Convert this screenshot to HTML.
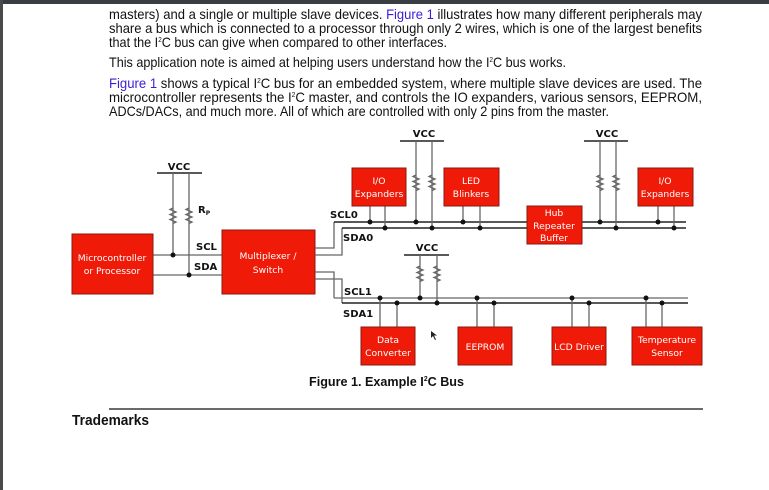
<!DOCTYPE html>
<html><head><meta charset="utf-8"><style>
html,body{margin:0;padding:0;background:#fff;width:769px;height:490px;overflow:hidden}
svg{display:block}
.p{font-family:"Liberation Sans",sans-serif;font-size:14px;fill:#111}
.lk{fill:#3a1fd6}
.bx{fill:#f01a08;stroke:#8a1a10;stroke-width:1}
.bt{font-family:"DejaVu Sans","Liberation Sans",sans-serif;font-size:9.2px;fill:#fff;text-anchor:middle}
.lb{font-family:"DejaVu Sans","Liberation Sans",sans-serif;font-size:10px;font-weight:bold;fill:#111}
.w{stroke:#666;stroke-width:1.3;fill:none}
.b{stroke:#222;stroke-width:1.5;fill:none}
.d{fill:#111}
</style></head><body>
<svg width="769" height="490" viewBox="0 0 769 490" xmlns="http://www.w3.org/2000/svg">
<rect x="0" y="0" width="769" height="490" fill="#fff"/>
<rect x="0" y="0" width="769" height="4" fill="#3a3d42"/>
<rect x="0" y="0" width="3" height="490" fill="#4a4a4a"/>

<text class="p" x="109" y="19" textLength="593" lengthAdjust="spacingAndGlyphs">masters) and a single or multiple slave devices. <tspan class="lk">Figure 1</tspan> illustrates how many different peripherals may</text>
<text class="p" x="109" y="33" textLength="593" lengthAdjust="spacingAndGlyphs">share a bus which is connected to a processor through only 2 wires, which is one of the largest benefits</text>
<text class="p" x="109" y="47" textLength="338" lengthAdjust="spacingAndGlyphs">that the I<tspan font-size="7" dy="-5">2</tspan><tspan dy="5">C bus can give when compared to other interfaces.</tspan></text>
<text class="p" x="109" y="67" textLength="457" lengthAdjust="spacingAndGlyphs">This application note is aimed at helping users understand how the I<tspan font-size="7" dy="-5">2</tspan><tspan dy="5">C bus works.</tspan></text>
<text class="p" x="109" y="88" textLength="593" lengthAdjust="spacingAndGlyphs"><tspan class="lk">Figure 1</tspan> shows a typical I<tspan font-size="7" dy="-5">2</tspan><tspan dy="5">C bus for an embedded system, where multiple slave devices are used. The</tspan></text>
<text class="p" x="109" y="102" textLength="593" lengthAdjust="spacingAndGlyphs">microcontroller represents the I<tspan font-size="7" dy="-5">2</tspan><tspan dy="5">C master, and controls the IO expanders, various sensors, EEPROM,</tspan></text>
<text class="p" x="109" y="116" textLength="500" lengthAdjust="spacingAndGlyphs">ADCs/DACs, and much more. All of which are controlled with only 2 pins from the master.</text>

<!-- left VCC -->
<line class="b" x1="157" y1="173" x2="202" y2="173"/>
<text class="lb" x="179" y="170" text-anchor="middle">VCC</text>
<line class="w" x1="173" y1="173" x2="173" y2="255"/>
<line class="w" x1="189" y1="173" x2="189" y2="275"/>
<path class="w" d="M173 208 l-3 1.5 l6 2.5 l-6 2.5 l6 2.5 l-6 2.5 l6 2.5 l-3 1.5"/>
<path class="w" d="M189 208 l-3 1.5 l6 2.5 l-6 2.5 l6 2.5 l-6 2.5 l6 2.5 l-3 1.5"/>
<text class="lb" x="198" y="213">R<tspan font-size="6" dy="2">P</tspan></text>
<line class="w" x1="153" y1="255" x2="222" y2="255"/>
<line class="w" x1="153" y1="275" x2="222" y2="275"/>
<circle class="d" cx="173" cy="255" r="2.5"/><circle class="d" cx="189" cy="275" r="2.5"/>
<text class="lb" x="196" y="250">SCL</text>
<text class="lb" x="194" y="270">SDA</text>

<rect class="bx" x="72" y="234" width="81" height="60"/>
<text class="bt" x="112" y="261">Microcontroller</text>
<text class="bt" x="112" y="274">or Processor</text>
<rect class="bx" x="222" y="230" width="93" height="64"/>
<text class="bt" x="268" y="259">Multiplexer /</text>
<text class="bt" x="268" y="273">Switch</text>

<!-- branch 0 -->
<path class="w" d="M315 248 H334 V222"/>
<path class="w" d="M315 255 H342 V228"/>
<line class="b" x1="334" y1="222" x2="686" y2="222"/>
<line class="b" x1="342" y1="228" x2="686" y2="228"/>
<text class="lb" x="330" y="218">SCL0</text>
<text class="lb" x="343" y="241">SDA0</text>

<line class="b" x1="400" y1="141" x2="444" y2="141"/>
<text class="lb" x="424" y="137" text-anchor="middle">VCC</text>
<line class="w" x1="416" y1="141" x2="416" y2="222"/>
<line class="w" x1="432" y1="141" x2="432" y2="228"/>
<path class="w" d="M416 175 l-3 1.5 l6 2.5 l-6 2.5 l6 2.5 l-6 2.5 l6 2.5 l-3 1.5"/>
<path class="w" d="M432 175 l-3 1.5 l6 2.5 l-6 2.5 l6 2.5 l-6 2.5 l6 2.5 l-3 1.5"/>

<line class="b" x1="584" y1="141" x2="628" y2="141"/>
<text class="lb" x="607" y="137" text-anchor="middle">VCC</text>
<line class="w" x1="600" y1="141" x2="600" y2="222"/>
<line class="w" x1="616" y1="141" x2="616" y2="228"/>
<path class="w" d="M600 175 l-3 1.5 l6 2.5 l-6 2.5 l6 2.5 l-6 2.5 l6 2.5 l-3 1.5"/>
<path class="w" d="M616 175 l-3 1.5 l6 2.5 l-6 2.5 l6 2.5 l-6 2.5 l6 2.5 l-3 1.5"/>

<line class="w" x1="370" y1="206" x2="370" y2="222"/><line class="w" x1="385" y1="206" x2="385" y2="228"/>
<line class="w" x1="463" y1="206" x2="463" y2="222"/><line class="w" x1="480" y1="206" x2="480" y2="228"/>
<line class="w" x1="658" y1="206" x2="658" y2="222"/><line class="w" x1="674" y1="206" x2="674" y2="228"/>
<circle class="d" cx="370" cy="222" r="2.5"/><circle class="d" cx="385" cy="228" r="2.5"/>
<circle class="d" cx="416" cy="222" r="2.5"/><circle class="d" cx="432" cy="228" r="2.5"/>
<circle class="d" cx="463" cy="222" r="2.5"/><circle class="d" cx="480" cy="228" r="2.5"/>
<circle class="d" cx="600" cy="222" r="2.5"/><circle class="d" cx="616" cy="228" r="2.5"/>
<circle class="d" cx="658" cy="222" r="2.5"/><circle class="d" cx="674" cy="228" r="2.5"/>

<rect class="bx" x="352" y="168" width="54" height="38"/>
<text class="bt" x="379" y="184">I/O</text><text class="bt" x="379" y="197">Expanders</text>
<rect class="bx" x="444" y="168" width="55" height="38"/>
<text class="bt" x="471" y="184">LED</text><text class="bt" x="471" y="197">Blinkers</text>
<rect class="bx" x="527" y="206" width="55" height="38"/>
<text class="bt" x="554" y="216">Hub</text><text class="bt" x="554" y="229">Repeater</text><text class="bt" x="554" y="241">Buffer</text>
<rect class="bx" x="638" y="168" width="55" height="38"/>
<text class="bt" x="665" y="184">I/O</text><text class="bt" x="665" y="197">Expanders</text>

<!-- branch 1 -->
<path class="w" d="M315 272 H334 V298"/>
<path class="w" d="M315 279 H342 V303"/>
<line class="w" x1="334" y1="298" x2="688" y2="298" stroke="#555" stroke-width="1.6"/>
<line class="b" x1="342" y1="303" x2="688" y2="303"/>
<text class="lb" x="344" y="295">SCL1</text>
<text class="lb" x="343" y="317">SDA1</text>

<line class="b" x1="404" y1="255" x2="449" y2="255"/>
<text class="lb" x="427" y="251" text-anchor="middle">VCC</text>
<line class="w" x1="420" y1="255" x2="420" y2="298"/>
<line class="w" x1="437" y1="255" x2="437" y2="303"/>
<path class="w" d="M420 266 l-3 1.5 l6 2.5 l-6 2.5 l6 2.5 l-6 2.5 l6 2.5 l-3 1.5"/>
<path class="w" d="M437 266 l-3 1.5 l6 2.5 l-6 2.5 l6 2.5 l-6 2.5 l6 2.5 l-3 1.5"/>
<circle class="d" cx="420" cy="298" r="2.5"/><circle class="d" cx="437" cy="303" r="2.5"/>

<line class="w" x1="380" y1="298" x2="380" y2="327"/><line class="w" x1="397" y1="303" x2="397" y2="327"/>
<line class="w" x1="477" y1="298" x2="477" y2="327"/><line class="w" x1="494" y1="303" x2="494" y2="327"/>
<line class="w" x1="572" y1="298" x2="572" y2="327"/><line class="w" x1="589" y1="303" x2="589" y2="327"/>
<line class="w" x1="646" y1="298" x2="646" y2="327"/><line class="w" x1="662" y1="303" x2="662" y2="327"/>
<circle class="d" cx="380" cy="298" r="2.5"/><circle class="d" cx="397" cy="303" r="2.5"/>
<circle class="d" cx="477" cy="298" r="2.5"/><circle class="d" cx="494" cy="303" r="2.5"/>
<circle class="d" cx="572" cy="298" r="2.5"/><circle class="d" cx="589" cy="303" r="2.5"/>
<circle class="d" cx="646" cy="298" r="2.5"/><circle class="d" cx="662" cy="303" r="2.5"/>

<rect class="bx" x="361" y="327" width="54" height="38"/>
<text class="bt" x="388" y="343">Data</text><text class="bt" x="388" y="356">Converter</text>
<rect class="bx" x="458" y="327" width="54" height="38"/>
<text class="bt" x="485" y="350">EEPROM</text>
<rect class="bx" x="552" y="327" width="54" height="38"/>
<text class="bt" x="579" y="350">LCD Driver</text>
<rect class="bx" x="632" y="327" width="70" height="38"/>
<text class="bt" x="667" y="343">Temperature</text><text class="bt" x="667" y="356">Sensor</text>

<path d="M431 331 l0 7 l2 -2 l2 4 l1 -0.5 l-2 -4 l3 0 z" fill="#222"/>

<text x="309" y="386" font-family="Liberation Sans,sans-serif" font-size="13" font-weight="bold" fill="#111" textLength="155" lengthAdjust="spacingAndGlyphs">Figure 1. Example I<tspan font-size="7" dy="-5">2</tspan><tspan dy="5">C Bus</tspan></text>
<line x1="109" y1="409" x2="703" y2="409" stroke="#111" stroke-width="1.3"/>
<text x="72" y="425" font-family="Liberation Sans,sans-serif" font-size="15" font-weight="bold" fill="#111" textLength="77" lengthAdjust="spacingAndGlyphs">Trademarks</text>
</svg>
</body></html>
